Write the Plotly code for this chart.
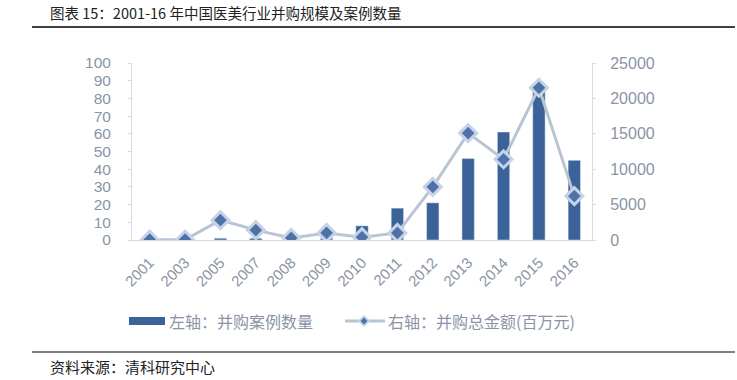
import plotly.graph_objects as go

years = ["2001", "2003", "2005", "2007", "2008", "2009", "2010", "2011", "2012", "2013", "2014", "2015", "2016"]
deal_count = [0, 0, 1, 1, 0, 1, 8, 18, 21, 46, 61, 87, 45]
deal_value = [50, 50, 2800, 1400, 300, 1000, 400, 1000, 7500, 15100, 11400, 21500, 6200]

title_text = "图表 15：2001-16 年中国医美行业并购规模及案例数量"
source_text = "资料来源：清科研究中心"
bar_name = "左轴：并购案例数量"
line_name = "右轴：并购总金额(百万元)"

tick_color = "#8A94A6"
axis_color = "#D5DBE3"
bar_color = "#3B6299"
line_color = "#B9C5D5"
marker_fill = "#4E72A7"
marker_edge = "#C6D3E7"

W, H = 737, 380
L, R, T, B = 132, 145, 63, 140
PW, PH = W - L - R, H - T - B


def px(x):
    return (x - L) / PW


def py(y):
    return (H - B - y) / PH


fig = go.Figure()
fig.add_trace(go.Bar(
    x=years, y=deal_count, name=bar_name, yaxis="y",
    marker=dict(color=bar_color), width=0.35,
))
fig.add_trace(go.Scatter(
    x=years, y=deal_value, name=line_name, yaxis="y2", mode="lines+markers",
    line=dict(color=line_color, width=3),
    marker=dict(symbol="diamond", size=13, color=marker_fill,
                line=dict(color=marker_edge, width=3)),
))

fig.update_layout(
    width=W, height=H,
    margin=dict(l=L, r=R, t=T, b=B, autoexpand=False),
    paper_bgcolor="white", plot_bgcolor="white",
    font=dict(family="Liberation Sans, Arial, sans-serif", color=tick_color),
    showlegend=False,
    xaxis=dict(type="category", range=[-0.5, len(years) - 0.5], tickangle=-45,
               tickfont=dict(size=15, color=tick_color),
               showline=True, linecolor=axis_color, linewidth=1, ticks="",
               showgrid=False, zeroline=False, ticklabelstandoff=7),
    yaxis=dict(range=[0, 100], dtick=10, tickfont=dict(size=15.5, color=tick_color),
               showline=True, linecolor=axis_color, ticks="outside", ticklen=3,
               tickcolor=axis_color, showgrid=False, zeroline=False,
               ticklabelstandoff=14),
    yaxis2=dict(range=[0, 25000], dtick=5000, overlaying="y", side="right",
                tickformat="d", tickfont=dict(size=16, color=tick_color),
                showline=True, linecolor=axis_color, ticks="outside", ticklen=3,
                tickcolor=axis_color, showgrid=False, zeroline=False,
                ticklabelstandoff=11),
)

cjk = "Noto Sans CJK SC"
fig.add_annotation(text=title_text, xref="paper", yref="paper", x=px(48), y=py(13),
                   xanchor="left", yanchor="middle", showarrow=False,
                   font=dict(size=14.5, color="#222222", family=cjk))
fig.add_annotation(text=source_text, xref="paper", yref="paper", x=px(48), y=py(366),
                   xanchor="left", yanchor="middle", showarrow=False,
                   font=dict(size=15, color="#222222", family=cjk))
fig.add_shape(type="line", xref="paper", yref="paper", x0=px(32), x1=px(735),
              y0=py(27), y1=py(27), line=dict(color="#000000", width=1.5))
fig.add_shape(type="line", xref="paper", yref="paper", x0=px(32), x1=px(735),
              y0=py(352), y1=py(352), line=dict(color="#000000", width=1.2))

# legend (drawn manually)
ly = 321
fig.add_shape(type="rect", xref="paper", yref="paper", x0=px(129), x1=px(165),
              y0=py(ly - 4), y1=py(ly + 4), line=dict(width=0), fillcolor=bar_color)
fig.add_annotation(text=bar_name, xref="paper", yref="paper", x=px(167), y=py(ly),
                   xanchor="left", yanchor="middle", showarrow=False,
                   font=dict(size=16, color=tick_color, family=cjk))
fig.add_shape(type="line", xref="paper", yref="paper", x0=px(345), x1=px(385),
              y0=py(ly), y1=py(ly), line=dict(color=line_color, width=3))


def diamond(cx, cy, r):
    return (f"M {px(cx)},{py(cy - r)} L {px(cx + r)},{py(cy)} "
            f"L {px(cx)},{py(cy + r)} L {px(cx - r)},{py(cy)} Z")


fig.add_shape(type="path", xref="paper", yref="paper", path=diamond(364, ly, 6),
              fillcolor=marker_edge, line=dict(width=0))
fig.add_shape(type="path", xref="paper", yref="paper", path=diamond(364, ly, 3.5),
              fillcolor=marker_fill, line=dict(width=0))
fig.add_annotation(text=line_name, xref="paper", yref="paper", x=px(386), y=py(ly),
                   xanchor="left", yanchor="middle", showarrow=False,
                   font=dict(size=16, color=tick_color, family=cjk))

fig.write_html("out.html", config={"displayModeBar": False},
               post_script="document.body.style.margin='0';document.body.style.overflow='hidden';")
